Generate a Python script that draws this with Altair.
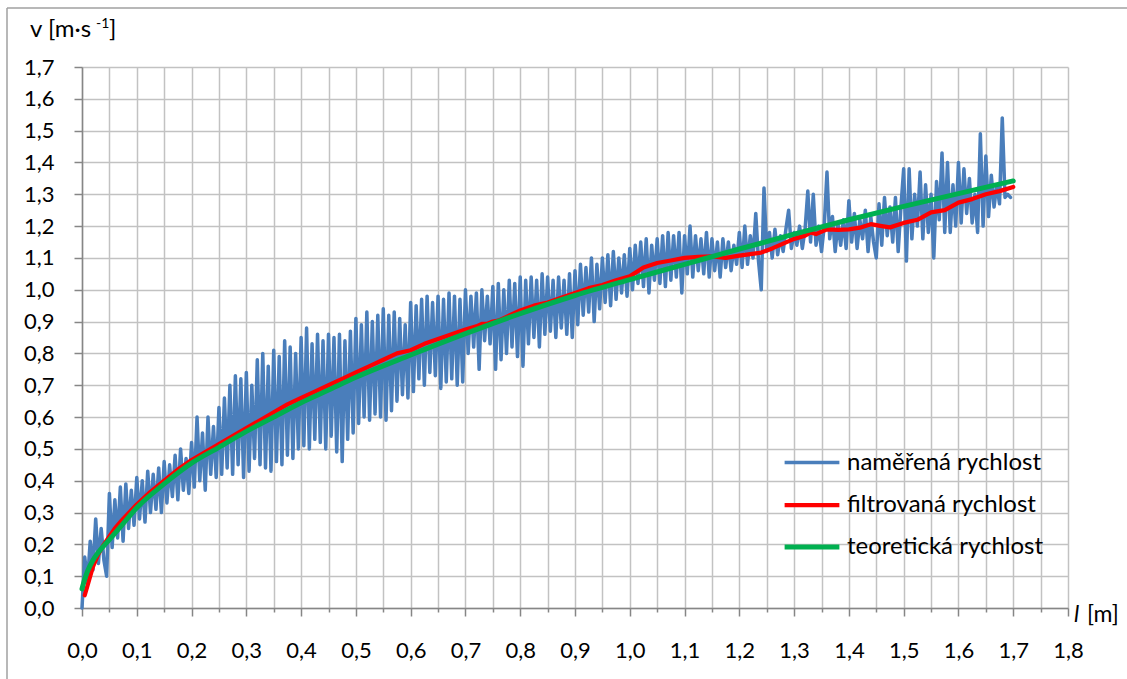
import altair as alt
import pandas as pd

# Series names and colours
names = ["naměřená rychlost", "filtrovaná rychlost", "teoretická rychlost"]
colors = ["#4a7ebb", "#ff0000", "#00b050"]
widths = [3.5, 5, 7]

# Measured velocity, sampled every 5 mm from l = 0 to 1.695 m
step_blue = 0.005
v_measured = [
    0.00, 0.16, 0.08, 0.21, 0.12, 0.28, 0.14, 0.25, 0.15, 0.10,
    0.36, 0.19, 0.34, 0.22, 0.38, 0.21, 0.39, 0.25, 0.37, 0.26,
    0.41, 0.28, 0.40, 0.27, 0.43, 0.30, 0.42, 0.31, 0.44, 0.30,
    0.46, 0.33, 0.45, 0.35, 0.48, 0.34, 0.50, 0.37, 0.47, 0.36,
    0.52, 0.38, 0.60, 0.40, 0.55, 0.37, 0.60, 0.42, 0.57, 0.41,
    0.63, 0.42, 0.66, 0.44, 0.70, 0.42, 0.73, 0.45, 0.72, 0.41,
    0.74, 0.43, 0.70, 0.47, 0.78, 0.45, 0.80, 0.44, 0.76, 0.43,
    0.81, 0.46, 0.79, 0.45, 0.84, 0.48, 0.82, 0.47, 0.80, 0.50,
    0.85, 0.51, 0.88, 0.50, 0.83, 0.53, 0.86, 0.52, 0.84, 0.50,
    0.86, 0.54, 0.85, 0.49, 0.86, 0.46, 0.84, 0.53, 0.87, 0.55,
    0.91, 0.58, 0.89, 0.60, 0.93, 0.59, 0.90, 0.61, 0.92, 0.60,
    0.94, 0.59, 0.92, 0.62, 0.93, 0.65, 0.91, 0.67, 0.89, 0.66,
    0.96, 0.68, 0.95, 0.72, 0.97, 0.70, 0.98, 0.74, 0.96, 0.73,
    0.98, 0.69, 0.97, 0.71, 0.99, 0.72, 0.98, 0.70, 0.97, 0.71,
    1.00, 0.80, 0.98, 0.82, 0.99, 0.75, 1.00, 0.84, 0.98, 0.83,
    1.01, 0.75, 1.02, 0.78, 1.00, 0.80, 1.03, 0.82, 1.02, 0.79,
    1.04, 0.76, 1.03, 0.83, 1.04, 0.85, 1.03, 0.82, 1.05, 0.86,
    1.04, 0.87, 1.03, 0.85, 1.04, 0.88, 1.03, 0.86, 1.05, 0.85,
    1.06, 0.89, 1.08, 0.92, 1.07, 0.93, 1.10, 0.90, 1.08, 0.94,
    1.10, 0.96, 1.11, 0.95, 1.12, 0.97, 1.10, 0.99, 1.11, 0.98,
    1.13, 1.00, 1.14, 1.02, 1.15, 1.01, 1.16, 0.99, 1.14, 1.03,
    1.16, 1.02, 1.17, 1.01, 1.18, 1.03, 1.17, 1.04, 1.18, 0.99,
    1.17, 1.05, 1.20, 1.04, 1.17, 1.06, 1.16, 1.05, 1.18, 1.04,
    1.16, 1.06, 1.15, 1.04, 1.16, 1.07, 1.15, 1.06, 1.14, 1.08,
    1.18, 1.07, 1.20, 1.08, 1.17, 1.10, 1.24, 1.09, 1.00, 1.32,
    1.12, 1.18, 1.10, 1.19, 1.11, 1.17, 1.12, 1.19, 1.25, 1.13,
    1.18, 1.14, 1.20, 1.13, 1.19, 1.31, 1.15, 1.30, 1.14, 1.20,
    1.12, 1.20, 1.37, 1.16, 1.23, 1.12, 1.21, 1.14, 1.22, 1.13,
    1.28, 1.15, 1.24, 1.13, 1.22, 1.16, 1.25, 1.12, 1.23, 1.15,
    1.10, 1.27, 1.14, 1.29, 1.17, 1.26, 1.15, 1.29, 1.12, 1.26,
    1.38, 1.09, 1.38, 1.16, 1.30, 1.20, 1.37, 1.16, 1.33, 1.18,
    1.30, 1.10, 1.34, 1.22, 1.43, 1.18, 1.40, 1.18, 1.33, 1.20,
    1.40, 1.21, 1.38, 1.24, 1.35, 1.21, 1.30, 1.18, 1.49, 1.20,
    1.42, 1.23, 1.36, 1.26, 1.33, 1.27, 1.54, 1.29, 1.30, 1.29,
]
l_measured = [round(i * step_blue, 3) for i in range(len(v_measured))]

# Filtered velocity
l_filtered = [
    0.005, 0.01, 0.02, 0.03, 0.04, 0.05, 0.06, 0.075, 0.1, 0.125,
    0.15, 0.175, 0.2, 0.225, 0.25, 0.275, 0.3, 0.325, 0.35, 0.375,
    0.4, 0.425, 0.45, 0.475, 0.5, 0.525, 0.55, 0.575, 0.6, 0.625,
    0.65, 0.675, 0.7, 0.72, 0.73, 0.74, 0.75, 0.76, 0.775, 0.8,
    0.825, 0.85, 0.875, 0.9, 0.925, 0.95, 0.975, 1.0, 1.025, 1.05,
    1.075, 1.1, 1.125, 1.15, 1.175, 1.2, 1.22, 1.24, 1.26, 1.28,
    1.3, 1.32, 1.33, 1.34, 1.36, 1.38, 1.4, 1.42, 1.44, 1.46,
    1.475, 1.5, 1.525, 1.55, 1.575, 1.6, 1.625, 1.65, 1.675, 1.7,
]
v_filtered = [
    0.04, 0.07, 0.13, 0.17, 0.20, 0.225, 0.25, 0.28, 0.325, 0.365,
    0.40, 0.435, 0.465, 0.49, 0.515, 0.54, 0.565, 0.59, 0.615, 0.64,
    0.66, 0.68, 0.70, 0.72, 0.74, 0.76, 0.78, 0.80, 0.81, 0.83,
    0.845, 0.86, 0.875, 0.885, 0.893, 0.893, 0.90, 0.903, 0.915, 0.935,
    0.95, 0.96, 0.975, 0.99, 1.005, 1.015, 1.03, 1.042, 1.07, 1.084,
    1.092, 1.10, 1.103, 1.105, 1.10, 1.107, 1.112, 1.117, 1.13, 1.145,
    1.16, 1.17, 1.18, 1.175, 1.19, 1.188, 1.19, 1.195, 1.206, 1.20,
    1.196, 1.21, 1.22, 1.243, 1.25, 1.274, 1.285, 1.30, 1.31, 1.323,
]

# Theoretical velocity
l_theory = [
    0.0, 0.005, 0.01, 0.02, 0.03, 0.05, 0.075, 0.1, 0.15, 0.2,
    0.25, 0.3, 0.35, 0.4, 0.45, 0.5, 0.6, 0.7, 0.8, 0.9,
    1.0, 1.1, 1.2, 1.3, 1.4, 1.5, 1.6, 1.7,
]
v_theory = [
    0.06, 0.09, 0.115, 0.15, 0.175, 0.215, 0.265, 0.315, 0.39, 0.455,
    0.505, 0.555, 0.60, 0.645, 0.685, 0.725, 0.795, 0.862, 0.925, 0.982,
    1.032, 1.08, 1.128, 1.175, 1.22, 1.262, 1.302, 1.342,
]

# Axis ticks
x_ticks = [round(i * 0.05, 2) for i in range(37)]
y_ticks = [round(i * 0.1, 1) for i in range(18)]

FONT = "Lato"

df_measured = pd.DataFrame({"l": l_measured, "v": v_measured, "series": names[0]})
df_filtered = pd.DataFrame({"l": l_filtered, "v": v_filtered, "series": names[1]})
df_theory = pd.DataFrame({"l": l_theory, "v": v_theory, "series": names[2]})

comma_label = "replace(format(datum.value, '.1f'), '.', ',')"
minor_test = "abs(datum.value * 10 - round(datum.value * 10)) > 0.01"

x_enc = alt.X(
    "l:Q",
    scale=alt.Scale(domain=[0, 1.8], nice=False, zero=False),
    axis=alt.Axis(
        values=x_ticks,
        title=None,
        grid=True,
        labelExpr=f"{minor_test} ? '' : {comma_label}",
        tickSize={"condition": {"test": minor_test, "value": 4}, "value": 8},
        labelPadding=24,
        labelFlush=False,
        labelOverlap=False,
    ),
)
y_enc = alt.Y(
    "v:Q",
    scale=alt.Scale(domain=[0, 1.7], nice=False),
    axis=alt.Axis(
        values=y_ticks,
        title=None,
        grid=True,
        labelExpr=comma_label,
        tickSize=8,
        labelPadding=20,
        labelOverlap=False,
    ),
)

legend = alt.Legend(
    title=None,
    orient="none",
    legendX=700,
    legendY=366,
    symbolType="stroke",
    symbolSize=3000,
    labelFontSize=24,
    labelFont=FONT,
    labelColor="#000000",
    labelLimit=0,
    rowPadding=-4,
    labelOffset=5,
    symbolStrokeWidth=4,
)
color_enc = alt.Color("series:N", scale=alt.Scale(domain=names, range=colors), legend=legend)
width_enc = alt.StrokeWidth("series:N", scale=alt.Scale(domain=names, range=widths), legend=legend)


def series_layer(df):
    return alt.Chart(df).mark_line(strokeJoin="round", strokeCap="round").encode(
        x=x_enc, y=y_enc, color=color_enc, strokeWidth=width_enc, order="l:Q"
    )


lines = series_layer(df_measured) + series_layer(df_filtered) + series_layer(df_theory).mark_line(
    interpolate="monotone", strokeCap="round"
)

# Axis titles drawn as text so the superscript and italic letter can be styled
y_title = alt.Chart(pd.DataFrame({"t": ["v [m·s"]})).mark_text(
    align="left", baseline="alphabetic", font=FONT, fontSize=24, color="#000000"
).encode(text="t:N", x=alt.value(-52), y=alt.value(-30))
y_title_sup = alt.Chart(pd.DataFrame({"t": ["-1"]})).mark_text(
    align="left", baseline="alphabetic", font=FONT, fontSize=14, color="#000000"
).encode(text="t:N", x=alt.value(14), y=alt.value(-39))
y_title_end = alt.Chart(pd.DataFrame({"t": ["]"]})).mark_text(
    align="left", baseline="alphabetic", font=FONT, fontSize=24, color="#000000"
).encode(text="t:N", x=alt.value(27), y=alt.value(-30))

x_title_l = alt.Chart(pd.DataFrame({"t": ["l"]})).mark_text(
    align="left", baseline="alphabetic", font=FONT, fontSize=23, fontStyle="italic", color="#000000"
).encode(text="t:N", x=alt.value(992), y=alt.value(555))
x_title_unit = alt.Chart(pd.DataFrame({"t": ["[m]"]})).mark_text(
    align="left", baseline="alphabetic", font=FONT, fontSize=23, color="#000000"
).encode(text="t:N", x=alt.value(1005), y=alt.value(555))

# Outer frame of the chart
frame_left = alt.Chart(pd.DataFrame({"k": [0]})).mark_rule(color="#a0a0a0", strokeWidth=1.5).encode(
    x=alt.value(-75), y=alt.value(-59), y2=alt.value(620)
)
frame_top = alt.Chart(pd.DataFrame({"k": [0]})).mark_rule(color="#a0a0a0", strokeWidth=1.5).encode(
    x=alt.value(-75), x2=alt.value(1050), y=alt.value(-59)
)

chart = (
    alt.layer(frame_left, frame_top, lines, y_title, y_title_sup, y_title_end, x_title_l, x_title_unit)
    .properties(
        width=986,
        height=541,
        padding={"left": 82, "top": 67, "right": 59, "bottom": 71},
        autosize=alt.AutoSizeParams(type="none"),
        background="#ffffff",
    )
    .configure_view(stroke=None)
    .configure_axis(
        labelFont=FONT,
        labelFontSize=22,
        labelColor="#000000",
        domainColor="#868686",
        domainWidth=1.5,
        tickColor="#868686",
        tickWidth=1.5,
        gridColor="#c2c2c2",
        gridWidth=1.5,
    )
)

chart.save("out.html", embed_options={"renderer": "svg", "actions": False})
